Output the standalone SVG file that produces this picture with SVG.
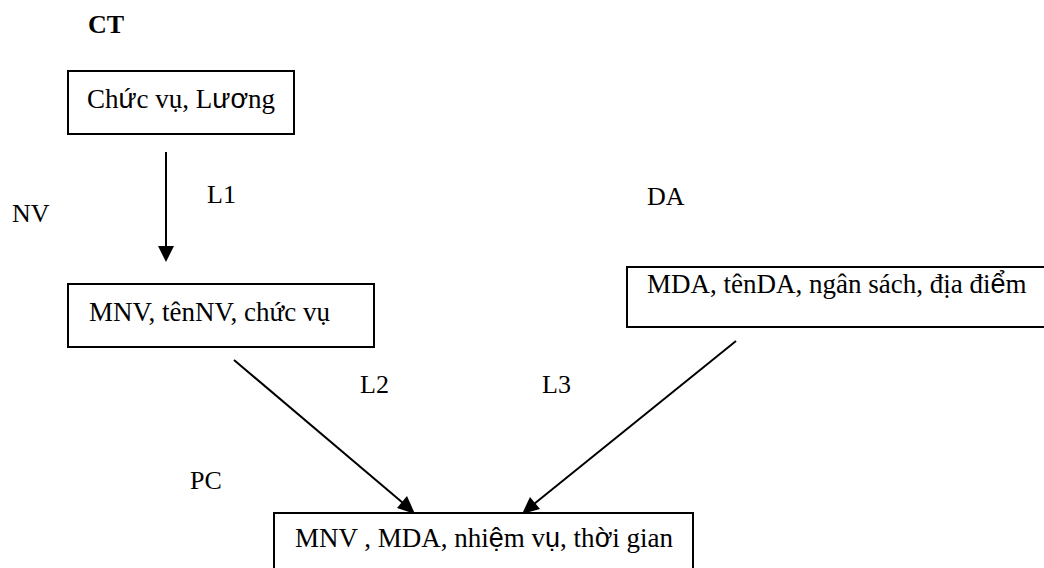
<svg xmlns="http://www.w3.org/2000/svg" width="1044" height="568" viewBox="0 0 1044 568">
  <style>
    text { font-family: "Liberation Serif", "Times New Roman", serif; font-size: 26px; fill: #000; }
    .b { font-weight: bold; }
    .t { font-size: 27px; }
    .s { font-family: "Liberation Sans", Arial, sans-serif; }
    .box { fill: #fff; stroke: #000; stroke-width: 2; }
    .edge { stroke: #000; stroke-width: 2; fill: none; }
    .head { fill: #000; }
  </style>
  <rect width="1044" height="568" fill="#fff"/>

  <!-- relation labels -->
  <text class="b" x="88" y="33">CT</text>
  <text x="12" y="222">NV</text>
  <text x="647" y="205">DA</text>
  <text x="190" y="489">PC</text>

  <!-- connectors with filled arrowheads -->
  <g id="connectors">
    <line class="edge" x1="166" y1="152" x2="166" y2="248"/>
    <path class="head" d="M158,246 L174,246 L166,262 Z"/>
    <text x="207" y="203">L1</text>

    <line class="edge" x1="234" y1="360" x2="403" y2="503"/>
    <path class="head" d="M415,514 L397,508 L407,496 Z"/>
    <text x="360" y="393">L2</text>

    <line class="edge" x1="736" y1="341" x2="534" y2="504"/>
    <path class="head" d="M522,514 L530,497 L540,509 Z"/>
    <text x="542" y="393">L3</text>
  </g>

  <g id="node-ct">
    <rect class="box" x="68" y="71" width="226" height="63"/>
    <text class="t" x="87" y="108">Ch<tspan class="s">ứ</tspan>c vụ, L<tspan class="s">ươ</tspan>ng</text>
  </g>

  <g id="node-nv">
    <rect class="box" x="68" y="284" width="306" height="63"/>
    <text class="t" x="89" y="321">MNV, tênNV, chức vụ</text>
  </g>

  <g id="node-da">
    <rect class="box" x="627" y="267" width="430" height="60"/>
    <text class="t" x="647" y="293">MDA, tênDA, ngân sách, địa đi<tspan class="s">ể</tspan>m</text>
  </g>

  <g id="node-pc">
    <rect class="box" x="274" y="513" width="419" height="70"/>
    <text class="t" x="295" y="547">MNV , MDA, nhi<tspan class="s">ệ</tspan>m v<tspan class="s">ụ</tspan>, th<tspan class="s">ờ</tspan>i gian</text>
  </g>
</svg>
